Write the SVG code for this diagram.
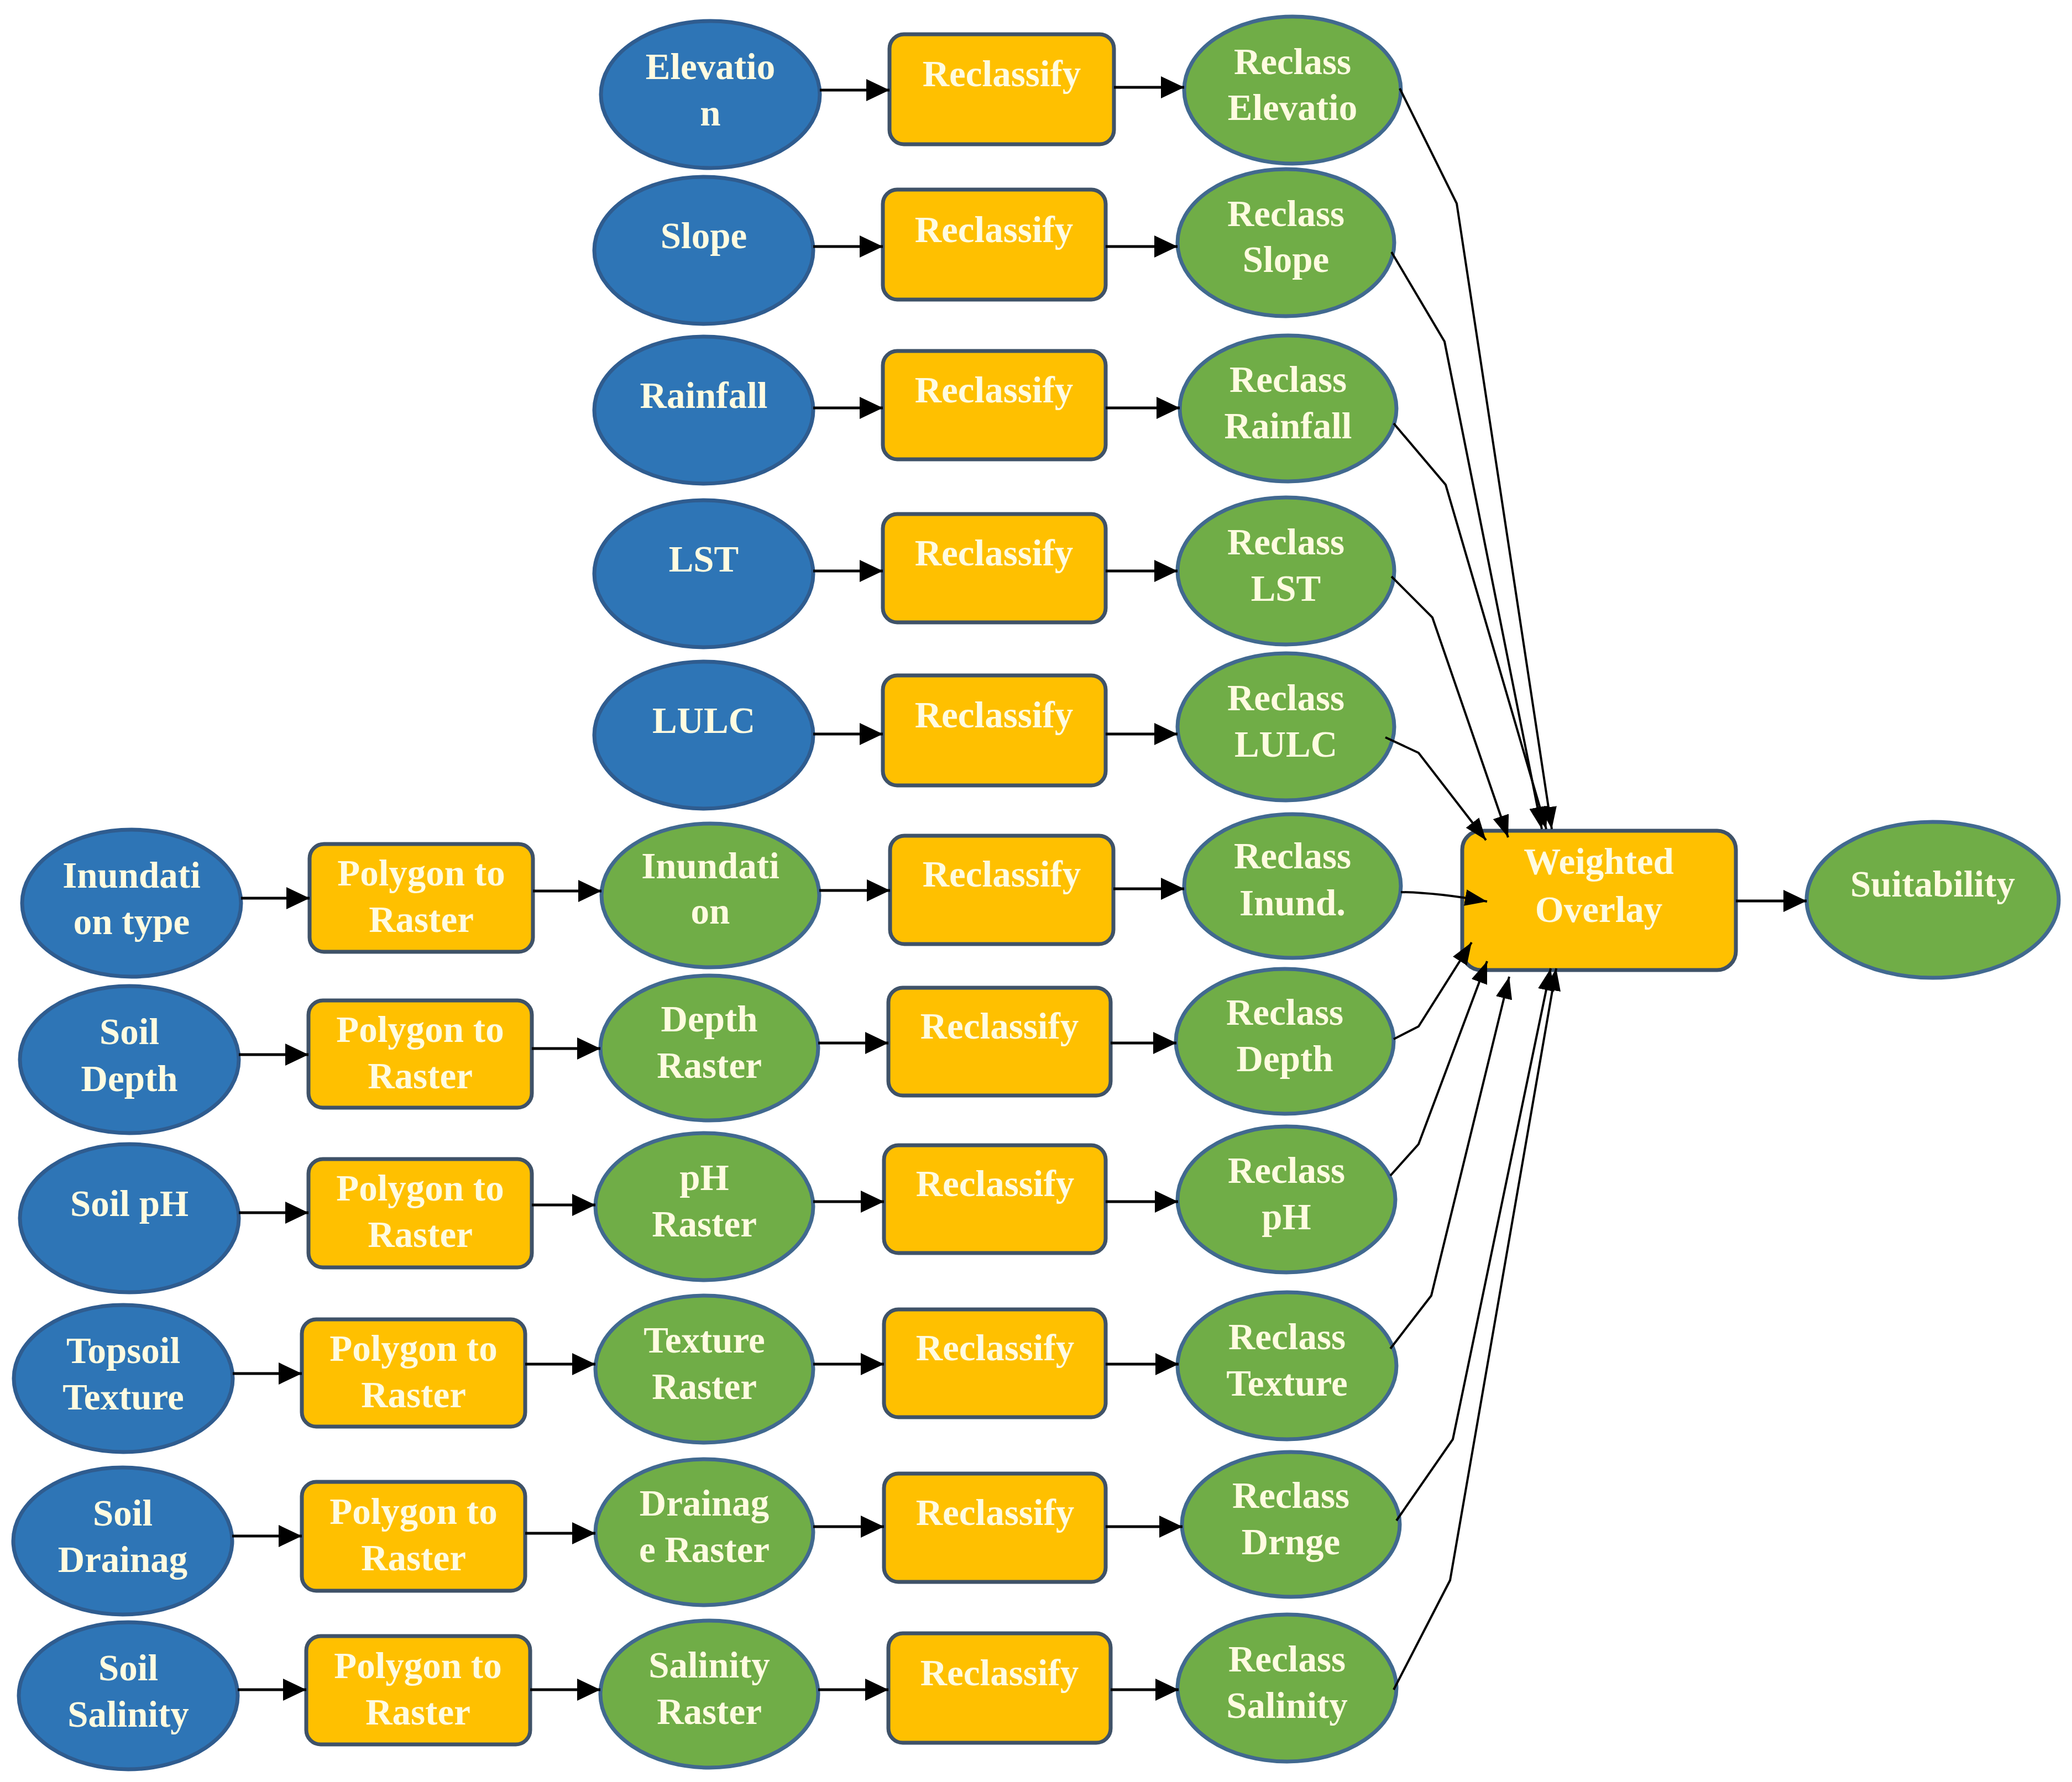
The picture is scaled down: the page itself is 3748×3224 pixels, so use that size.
<svg xmlns="http://www.w3.org/2000/svg" width="3748" height="3224" viewBox="0 0 3748 3224">
<defs>
<style>
.blue{fill:#2E75B6;stroke:#2F5C8F;stroke-width:7}
.green{fill:#70AD47;stroke:#41698F;stroke-width:7}
.box{fill:#FFC000;stroke:#3F5268;stroke-width:7}
.t{font-family:"Liberation Serif","Times New Roman",serif;font-weight:bold;font-size:67px;fill:#FFFBE0;text-anchor:middle}
.ln{fill:none;stroke:#000;stroke-width:5;marker-end:url(#ah)}
.cv{fill:none;stroke:#000;stroke-width:4;stroke-linejoin:miter;marker-end:url(#ah2)}
</style>
<marker id="ah" markerUnits="userSpaceOnUse" markerWidth="42" markerHeight="40" refX="42" refY="20" orient="auto" viewBox="0 0 42 40"><path d="M0,0 L42,20 L0,40 z" fill="#000"/></marker>
<marker id="ah2" markerUnits="userSpaceOnUse" markerWidth="40" markerHeight="30" refX="40" refY="15" orient="auto" viewBox="0 0 40 30"><path d="M0,0 L40,15 L0,30 z" fill="#000"/></marker>
</defs>
<rect width="3748" height="3224" fill="#fff"/>

<g id="n-elevation"><ellipse class="blue" cx="1285" cy="171" rx="198" ry="133"/><text class="t" x="1285" y="143">Elevatio</text><text class="t" x="1285" y="227">n</text></g>
<g id="n-slope"><ellipse class="blue" cx="1273" cy="453" rx="198" ry="133"/><text class="t" x="1273" y="449">Slope</text></g>
<g id="n-rainfall"><ellipse class="blue" cx="1273" cy="742" rx="198" ry="133"/><text class="t" x="1273" y="738">Rainfall</text></g>
<g id="n-lst"><ellipse class="blue" cx="1273" cy="1038" rx="198" ry="133"/><text class="t" x="1273" y="1034">LST</text></g>
<g id="n-lulc"><ellipse class="blue" cx="1273" cy="1330" rx="198" ry="133"/><text class="t" x="1273" y="1326">LULC</text></g>

<g id="r-1"><rect class="box" x="1609" y="62" width="406" height="199" rx="26"/><text class="t" x="1812" y="156">Reclassify</text></g>
<g id="r-2"><rect class="box" x="1597" y="343" width="403" height="199" rx="26"/><text class="t" x="1798" y="438">Reclassify</text></g>
<g id="r-3"><rect class="box" x="1597" y="635" width="403" height="196" rx="26"/><text class="t" x="1798" y="728">Reclassify</text></g>
<g id="r-4"><rect class="box" x="1597" y="930" width="403" height="196" rx="26"/><text class="t" x="1798" y="1023">Reclassify</text></g>
<g id="r-5"><rect class="box" x="1597" y="1222" width="403" height="199" rx="26"/><text class="t" x="1798" y="1316">Reclassify</text></g>

<g id="rc-elevation"><ellipse class="green" cx="2338" cy="163" rx="196" ry="133"/><text class="t" x="2338" y="134">Reclass</text><text class="t" x="2338" y="217">Elevatio</text></g>
<g id="rc-slope"><ellipse class="green" cx="2326" cy="439" rx="196" ry="133"/><text class="t" x="2326" y="409">Reclass</text><text class="t" x="2326" y="492">Slope</text></g>
<g id="rc-rainfall"><ellipse class="green" cx="2330" cy="739" rx="196" ry="132"/><text class="t" x="2330" y="709">Reclass</text><text class="t" x="2330" y="793">Rainfall</text></g>
<g id="rc-lst"><ellipse class="green" cx="2326" cy="1033" rx="196" ry="133"/><text class="t" x="2326" y="1003">Reclass</text><text class="t" x="2326" y="1087">LST</text></g>
<g id="rc-lulc"><ellipse class="green" cx="2326" cy="1315" rx="196" ry="133"/><text class="t" x="2326" y="1285">Reclass</text><text class="t" x="2326" y="1369">LULC</text></g>

<g id="n-inundation-type"><ellipse class="blue" cx="238" cy="1634" rx="198" ry="133"/><text class="t" x="238" y="1606">Inundati</text><text class="t" x="238" y="1690">on type</text></g>
<g id="n-soil-depth"><ellipse class="blue" cx="234" cy="1917" rx="198" ry="133"/><text class="t" x="234" y="1889">Soil</text><text class="t" x="234" y="1974">Depth</text></g>
<g id="n-soil-ph"><ellipse class="blue" cx="234" cy="2204" rx="198" ry="134"/><text class="t" x="234" y="2200">Soil pH</text></g>
<g id="n-topsoil-texture"><ellipse class="blue" cx="223" cy="2494" rx="198" ry="133"/><text class="t" x="223" y="2466">Topsoil</text><text class="t" x="223" y="2550">Texture</text></g>
<g id="n-soil-drainage"><ellipse class="blue" cx="222" cy="2788" rx="198" ry="133"/><text class="t" x="222" y="2760">Soil</text><text class="t" x="222" y="2844">Drainag</text></g>
<g id="n-soil-salinity"><ellipse class="blue" cx="232" cy="3068" rx="198" ry="133"/><text class="t" x="232" y="3040">Soil</text><text class="t" x="232" y="3124">Salinity</text></g>

<g id="p-6"><rect class="box" x="560" y="1527" width="404" height="195" rx="26"/><text class="t" x="762" y="1602">Polygon to</text><text class="t" x="762" y="1686">Raster</text></g>
<g id="p-7"><rect class="box" x="558" y="1810" width="404" height="194" rx="26"/><text class="t" x="760" y="1885">Polygon to</text><text class="t" x="760" y="1969">Raster</text></g>
<g id="p-8"><rect class="box" x="558" y="2097" width="404" height="196" rx="26"/><text class="t" x="760" y="2172">Polygon to</text><text class="t" x="760" y="2256">Raster</text></g>
<g id="p-9"><rect class="box" x="546" y="2387" width="404" height="194" rx="26"/><text class="t" x="748" y="2462">Polygon to</text><text class="t" x="748" y="2546">Raster</text></g>
<g id="p-10"><rect class="box" x="546" y="2681" width="404" height="197" rx="26"/><text class="t" x="748" y="2757">Polygon to</text><text class="t" x="748" y="2841">Raster</text></g>
<g id="p-11"><rect class="box" x="554" y="2960" width="405" height="196" rx="26"/><text class="t" x="756" y="3036">Polygon to</text><text class="t" x="756" y="3120">Raster</text></g>

<g id="g-inundation"><ellipse class="green" cx="1285" cy="1620" rx="197" ry="130"/><text class="t" x="1285" y="1589">Inundati</text><text class="t" x="1285" y="1671">on</text></g>
<g id="g-depth"><ellipse class="green" cx="1283" cy="1896" rx="197" ry="131"/><text class="t" x="1283" y="1866">Depth</text><text class="t" x="1283" y="1950">Raster</text></g>
<g id="g-ph"><ellipse class="green" cx="1274" cy="2183" rx="197" ry="133"/><text class="t" x="1274" y="2153">pH</text><text class="t" x="1274" y="2237">Raster</text></g>
<g id="g-texture"><ellipse class="green" cx="1274" cy="2477" rx="197" ry="133"/><text class="t" x="1274" y="2447">Texture</text><text class="t" x="1274" y="2531">Raster</text></g>
<g id="g-drainage"><ellipse class="green" cx="1274" cy="2772" rx="197" ry="132"/><text class="t" x="1274" y="2742">Drainag</text><text class="t" x="1274" y="2826">e Raster</text></g>
<g id="g-salinity"><ellipse class="green" cx="1283" cy="3065" rx="197" ry="133"/><text class="t" x="1283" y="3035">Salinity</text><text class="t" x="1283" y="3119">Raster</text></g>

<g id="r-6"><rect class="box" x="1610" y="1512" width="404" height="196" rx="26"/><text class="t" x="1812" y="1604">Reclassify</text></g>
<g id="r-7"><rect class="box" x="1607" y="1787" width="402" height="195" rx="26"/><text class="t" x="1808" y="1879">Reclassify</text></g>
<g id="r-8"><rect class="box" x="1599" y="2072" width="401" height="195" rx="26"/><text class="t" x="1800" y="2164">Reclassify</text></g>
<g id="r-9"><rect class="box" x="1599" y="2369" width="401" height="195" rx="26"/><text class="t" x="1800" y="2461">Reclassify</text></g>
<g id="r-10"><rect class="box" x="1599" y="2666" width="401" height="196" rx="26"/><text class="t" x="1800" y="2759">Reclassify</text></g>
<g id="r-11"><rect class="box" x="1607" y="2955" width="402" height="198" rx="26"/><text class="t" x="1808" y="3049">Reclassify</text></g>

<g id="rc-inund"><ellipse class="green" cx="2338" cy="1603" rx="196" ry="130"/><text class="t" x="2338" y="1571">Reclass</text><text class="t" x="2338" y="1656">Inund.</text></g>
<g id="rc-depth"><ellipse class="green" cx="2324" cy="1884" rx="197" ry="131"/><text class="t" x="2324" y="1854">Reclass</text><text class="t" x="2324" y="1938">Depth</text></g>
<g id="rc-ph"><ellipse class="green" cx="2327" cy="2170" rx="197" ry="132"/><text class="t" x="2327" y="2140">Reclass</text><text class="t" x="2327" y="2224">pH</text></g>
<g id="rc-texture"><ellipse class="green" cx="2328" cy="2471" rx="198" ry="133"/><text class="t" x="2328" y="2441">Reclass</text><text class="t" x="2328" y="2525">Texture</text></g>
<g id="rc-drnge"><ellipse class="green" cx="2335" cy="2758" rx="197" ry="131"/><text class="t" x="2335" y="2728">Reclass</text><text class="t" x="2335" y="2812">Drnge</text></g>
<g id="rc-salinity"><ellipse class="green" cx="2328" cy="3054" rx="198" ry="133"/><text class="t" x="2328" y="3024">Reclass</text><text class="t" x="2328" y="3108">Salinity</text></g>

<g id="n-weighted-overlay"><rect class="box" x="2645" y="1503" width="495" height="252" rx="34"/><text class="t" x="2892" y="1581">Weighted</text><text class="t" x="2892" y="1668">Overlay</text></g>
<g id="n-suitability"><ellipse class="green" cx="3496" cy="1628" rx="228" ry="141"/><text class="t" x="3496" y="1622">Suitability</text></g>

<g id="connectors">
<path class="ln" d="M1483,163 H1609"/>
<path class="ln" d="M2015,158 H2142"/>
<path class="ln" d="M1471,446 H1597"/>
<path class="ln" d="M2000,446 H2130"/>
<path class="ln" d="M1471,738 H1597"/>
<path class="ln" d="M2000,738 H2134"/>
<path class="ln" d="M1471,1033 H1597"/>
<path class="ln" d="M2000,1033 H2130"/>
<path class="ln" d="M1471,1328 H1597"/>
<path class="ln" d="M2000,1328 H2130"/>
<path class="ln" d="M436,1625 H560"/>
<path class="ln" d="M964,1612 H1088"/>
<path class="ln" d="M1482,1611 H1610"/>
<path class="ln" d="M2014,1608 H2142"/>
<path class="ln" d="M432,1908 H558"/>
<path class="ln" d="M962,1897 H1086"/>
<path class="ln" d="M1480,1887 H1607"/>
<path class="ln" d="M2009,1887 H2128"/>
<path class="ln" d="M432,2194 H558"/>
<path class="ln" d="M962,2180 H1077"/>
<path class="ln" d="M1471,2174 H1599"/>
<path class="ln" d="M2000,2174 H2131"/>
<path class="ln" d="M421,2485 H546"/>
<path class="ln" d="M950,2468 H1077"/>
<path class="ln" d="M1471,2468 H1599"/>
<path class="ln" d="M2000,2468 H2132"/>
<path class="ln" d="M420,2779 H546"/>
<path class="ln" d="M950,2774 H1077"/>
<path class="ln" d="M1471,2762 H1599"/>
<path class="ln" d="M2000,2762 H2139"/>
<path class="ln" d="M430,3057 H554"/>
<path class="ln" d="M959,3057 H1086"/>
<path class="ln" d="M1480,3057 H1607"/>
<path class="ln" d="M2009,3057 H2132"/>
<path class="ln" d="M3140,1630 H3268"/>
<path class="cv" d="M2532,160 L2635,368 L2807,1500"/>
<path class="cv" d="M2517,456 L2613,618 L2789,1500"/>
<path class="cv" d="M2521,766 L2615,877 L2797,1500"/>
<path class="cv" d="M2517,1043 L2591,1117 L2728,1515"/>
<path class="cv" d="M2506,1334 L2566,1362 L2688,1520"/>
<path class="cv" d="M2534,1614 Q2600,1615 2690,1631"/>
<path class="cv" d="M2521,1880 L2566,1857 L2662,1705"/>
<path class="cv" d="M2515,2127 L2566,2070 L2690,1739"/>
<path class="cv" d="M2515,2440 L2589,2344 L2730,1767"/>
<path class="cv" d="M2526,2751 L2628,2604 L2805,1752"/>
<path class="cv" d="M2521,3057 L2623,2859 L2815,1752"/>
</g>
</svg>
